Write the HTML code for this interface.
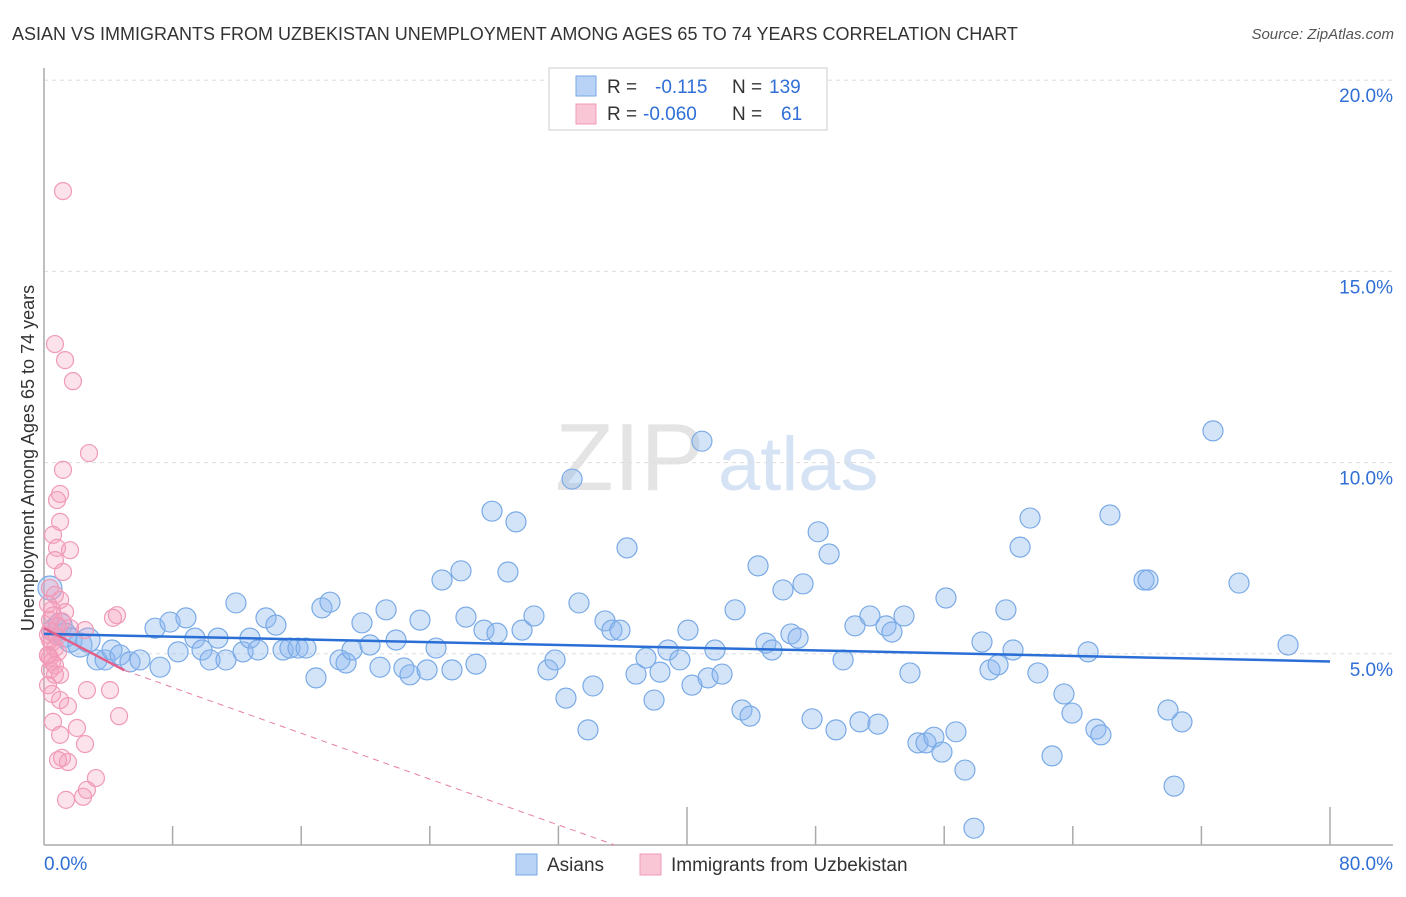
<!DOCTYPE html>
<html><head><meta charset="utf-8"><style>
body{margin:0;background:#fff;font-family:"Liberation Sans",sans-serif;}
svg text{font-family:"Liberation Sans",sans-serif;}
</style></head><body>
<svg id="chart" width="1406" height="892" xmlns="http://www.w3.org/2000/svg">
<text x="12" y="40" font-size="18" fill="#333">ASIAN VS IMMIGRANTS FROM UZBEKISTAN UNEMPLOYMENT AMONG AGES 65 TO 74 YEARS CORRELATION CHART</text>
<text x="1394" y="39" font-size="15" fill="#555" font-style="italic" text-anchor="end">Source: ZipAtlas.com</text>
<g>
<text x="555" y="490" font-size="96" fill="#e4e4e4" font-family="Liberation Serif,serif">ZIP</text>
<text x="718" y="490" font-size="76" fill="#d5e3f5">atlas</text>
</g>
<g id="grid"></g>
<g id="axes"></g>
<text transform="translate(34,458) rotate(-90)" font-size="18" fill="#333" text-anchor="middle">Unemployment Among Ages 65 to 74 years</text>
<g id="pts"></g>
<g id="trends"></g>
<g>
<rect x="549" y="68" width="278" height="62" fill="#fff" stroke="#ccc"/>
<rect x="576" y="76" width="20" height="20" fill="#b8d3f5" stroke="#7aaae6"/>
<rect x="576" y="104" width="20" height="20" fill="#f9c6d6" stroke="#f09ab8"/>
<text x="607" y="93" font-size="19" fill="#333">R = <tspan fill="#2f6fd6" x="655">-0.115</tspan><tspan fill="#333" x="732">N =</tspan><tspan fill="#2f6fd6" x="769">139</tspan></text>
<text x="607" y="120" font-size="19" fill="#333">R = <tspan fill="#2f6fd6" x="643">-0.060</tspan><tspan fill="#333" x="732">N =</tspan><tspan fill="#2f6fd6" x="781">61</tspan></text>
</g>
<g>
<rect x="516" y="854" width="21" height="21" fill="#b8d3f5" stroke="#7aaae6"/>
<text x="547" y="871" font-size="19" fill="#333">Asians</text>
<rect x="640" y="854" width="21" height="21" fill="#f9c6d6" stroke="#f09ab8"/>
<text x="671" y="871" font-size="19" fill="#333">Immigrants from Uzbekistan</text>
</g>
</svg>
<script>
const yTicks=[5,10,15,20];
const yTickLabels=["5.0%","10.0%","15.0%","20.0%"];
const xTickLabels=["0.0%","80.0%"];
const asianX=[0.37,0.68,1.0,1.31,1.62,2.24,2.74,3.30,3.80,4.23,4.73,5.35,5.97,6.91,7.22,7.84,8.34,8.83,9.39,9.83,10.33,10.82,11.32,11.94,12.38,12.81,13.31,13.81,14.43,14.87,15.30,15.80,16.30,16.92,17.29,17.79,18.41,18.79,19.16,19.78,20.28,20.90,21.28,21.90,22.39,22.77,23.39,23.83,24.39,24.76,25.38,25.94,26.25,26.87,27.37,27.87,28.18,28.86,29.36,29.74,30.48,31.35,31.79,32.47,32.85,33.28,33.84,34.15,34.90,35.33,35.83,36.27,36.83,37.45,37.95,38.32,38.82,39.56,40.06,40.31,40.93,41.31,41.74,42.18,42.99,43.42,43.92,44.42,44.91,45.29,45.97,46.47,46.91,47.22,47.78,48.16,48.84,49.27,49.71,50.45,50.76,51.38,51.88,52.38,52.75,53.50,53.87,54.37,54.87,55.36,55.86,56.11,56.73,57.29,57.85,58.35,58.85,59.35,59.84,60.28,60.72,61.34,61.83,62.71,63.45,63.95,64.95,65.44,65.75,66.31,68.43,68.68,69.92,70.30,70.79,72.72,74.34,77.39];
const asianY=[6.72,5.62,5.75,5.49,5.36,5.23,5.36,4.84,4.84,5.10,4.97,4.79,4.84,5.67,4.65,5.83,5.05,5.94,5.41,5.10,4.84,5.41,4.84,6.33,5.05,5.41,5.10,5.94,5.75,5.10,5.15,5.15,5.15,4.37,6.20,6.35,4.84,4.76,5.10,5.81,5.23,4.65,6.15,5.36,4.63,4.45,5.88,4.58,5.15,6.93,4.58,7.17,5.96,4.73,5.62,8.73,5.54,7.14,8.45,5.62,5.99,4.58,4.84,3.84,9.57,6.33,3.01,4.16,5.86,5.62,5.62,7.77,4.47,4.89,3.79,4.52,5.10,4.84,5.62,4.18,10.56,4.37,5.10,4.47,6.15,3.53,3.37,7.30,5.28,5.10,6.67,5.52,5.41,6.83,3.30,8.19,7.61,3.01,4.84,5.73,3.22,5.99,3.16,5.73,5.57,5.99,4.50,2.67,2.67,2.82,2.43,6.46,2.96,1.96,0.44,5.31,4.58,4.71,6.15,5.10,7.79,8.55,4.50,2.33,3.95,3.45,5.05,3.03,2.88,8.63,6.93,6.93,3.53,1.54,3.22,10.83,6.85,5.23];
const uzbX=[1.18,0.68,1.31,1.80,2.80,1.18,1.0,0.81,1.0,0.56,0.81,1.62,0.68,1.18,0.37,0.68,1.0,0.50,1.31,4.54,4.29,0.37,0.87,1.62,2.55,0.37,0.68,0.25,0.50,0.37,0.68,0.25,2.67,4.11,1.0,1.49,0.56,4.67,2.05,1.0,2.55,1.12,1.49,0.87,3.23,2.43,1.37,2.67,0.25,0.50,0.87,0.37,0.68,1.12,0.25,0.56,0.81,0.37,1.0,0.50,0.25];
const uzbY=[17.10,13.10,12.68,12.13,10.25,9.81,9.18,9.02,8.45,8.11,7.77,7.71,7.45,7.14,6.72,6.54,6.41,6.15,6.09,6.01,5.94,5.88,5.73,5.67,5.62,5.36,5.15,4.97,4.79,4.58,4.45,4.18,4.05,4.05,3.79,3.63,3.22,3.37,3.06,2.88,2.64,2.28,2.17,2.22,1.75,1.26,1.18,1.44,5.50,5.30,5.05,4.90,4.70,5.85,6.30,6.00,5.45,5.60,4.45,3.95,4.95];
const asianTrend=[[0,5.52],[80,4.80]];
const uzbTrend=[[0,5.67],[5,4.57],[35.5,0]];
const NS="http://www.w3.org/2000/svg";
const X0=44,X1=1330,Y0=845,YS=191.2/5;
function sx(v){return X0+(X1-X0)*v/80;}
function sy(v){return Y0-v*YS;}
function mk(tag,attrs,parent){const e=document.createElementNS(NS,tag);for(const k in attrs)e.setAttribute(k,attrs[k]);parent.appendChild(e);return e;}
const grid=document.getElementById('grid'),axes=document.getElementById('axes'),pts=document.getElementById('pts'),tr=document.getElementById('trends');
yTicks.forEach((t,i)=>{
 const l=mk('line',{x1:X0,x2:1393,y1:sy(t),y2:sy(t),stroke:'#ddd','stroke-dasharray':'4,4'},grid);
 
 
 const tx=mk('text',{x:1393,y:sy(t)+22,'font-size':19,fill:'#2f6fd6','text-anchor':'end'},axes);
 tx.textContent=yTickLabels[i];
 
 
});
const ax=mk('line',{x1:X0,x2:1393,y1:Y0,y2:Y0,stroke:'#aaa','stroke-width':1.5},axes);


const ay=mk('line',{x1:X0,x2:X0,y1:68,y2:Y0,stroke:'#aaa','stroke-width':1.5},axes);


for(let i=1;i<=10;i++){
 const v=i*8,h=(i==5||i==10)?38:19;
 const tk=mk('line',{x1:sx(v),x2:sx(v),y1:Y0-h,y2:Y0,stroke:'#aaa','stroke-width':1.5},axes);
 
 
}
[[0,'start'],[80,'end']].forEach((p,i)=>{
 const tx=mk('text',{x:i?1393:X0,y:870,'font-size':19,fill:'#2f6fd6','text-anchor':p[1]},axes);
 tx.textContent=xTickLabels[i];
 
 
});
asianX.forEach((x,i)=>{
 const c=mk('circle',{cx:sx(x),cy:sy(asianY[i]),r:x<3?12:10,fill:'rgba(140,185,238,0.38)',stroke:'#7aaae6','stroke-width':1.2},pts);
 
 
});
uzbX.forEach((x,i)=>{
 const c=mk('circle',{cx:sx(x),cy:sy(uzbY[i]),r:8.5,fill:'rgba(244,160,190,0.3)',stroke:'#f09ab8','stroke-width':1.2},pts);
 
 
});
const bt=mk('line',{x1:sx(asianTrend[0][0]),y1:sy(asianTrend[0][1]),x2:sx(asianTrend[1][0]),y2:sy(asianTrend[1][1]),stroke:'#2a6fd6','stroke-width':2.5},tr);


const pt=mk('line',{x1:sx(uzbTrend[0][0]),y1:sy(uzbTrend[0][1]),x2:sx(uzbTrend[1][0]),y2:sy(uzbTrend[1][1]),stroke:'#e0608a','stroke-width':2.5},tr);


const pd=mk('line',{x1:sx(uzbTrend[1][0]),y1:sy(uzbTrend[1][1]),x2:sx(uzbTrend[2][0]),y2:sy(uzbTrend[2][1]),stroke:'#e87fa2','stroke-width':1,'stroke-dasharray':'6,5'},tr);


</script>
</body></html>
